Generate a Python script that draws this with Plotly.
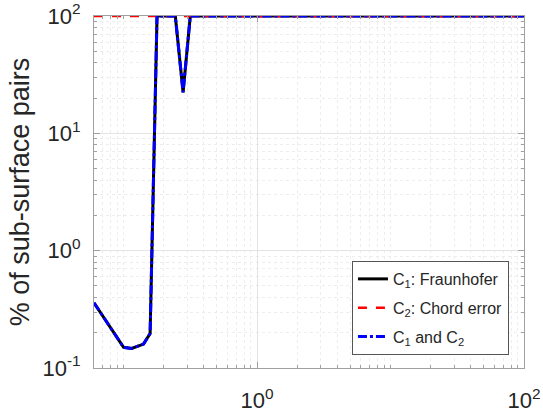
import plotly.graph_objects as go

# Data
x_vals = [0.06, 0.1, 0.115, 0.141, 0.158, 0.178, 0.244, 0.279, 0.316, 100]
c1_fraunhofer = [0.36, 0.150, 0.147, 0.160, 0.197, 100, 100, 22.4, 100, 100]
x_chord = [0.06, 100]
c2_chord = [100, 100]
c1_and_c2 = [0.36, 0.150, 0.147, 0.160, 0.197, 100, 100, 22.4, 100, 100]

x_tickvals = [1, 100]
x_ticktext = ["10<sup>0</sup>", "10<sup>2</sup>"]
y_tickvals = [0.1, 1, 10, 100]
y_ticktext = ["10<sup>-1</sup>", "10<sup>0</sup>", "10<sup>1</sup>", "10<sup>2</sup>"]

x_minor = [m * 10 ** e for e in (-2, -1, 0, 1) for m in range(1, 10)
           if 0.06 <= m * 10 ** e <= 100 and m * 10 ** e not in (1, 100)]
y_minor = [m * 10 ** e for e in (-1, 0, 1) for m in range(2, 10)]

FONT = "Liberation Sans, Arial, sans-serif"

fig = go.Figure()
fig.add_trace(go.Scatter(x=x_vals, y=c1_fraunhofer, mode="lines",
                         name="C<sub>1</sub>: Fraunhofer", legendgroup="a",
                         line=dict(color="black", width=3)))
fig.add_trace(go.Scatter(x=x_chord, y=c2_chord, mode="lines",
                         name="C<sub>2</sub>: Chord error", legendgroup="b",
                         line=dict(color="#ff0000", width=2.5, dash="dash")))
fig.add_trace(go.Scatter(x=x_vals, y=c1_and_c2, mode="lines",
                         name="C<sub>1</sub> and C<sub>2</sub>", legendgroup="c",
                         line=dict(color="#0000ff", width=3, dash="dashdot")))

axis_common = dict(
    type="log", automargin=False,
    showline=True, linecolor="#a0a0a0", linewidth=1, mirror="ticks",
    ticks="inside", ticklen=6, tickcolor="#a0a0a0",
    showgrid=True, gridcolor="#e4e4e4", gridwidth=1,
    zeroline=False, ticklabeloverflow="allow",
    tickfont=dict(family=FONT, size=22, color="#262626"),
)

fig.update_xaxes(
    **axis_common,
    range=[-1.2218, 2],
    tickvals=x_tickvals, ticktext=x_ticktext,
    ticklabelstandoff=13,
    minor=dict(tickvals=x_minor, ticks="inside", ticklen=3, tickcolor="#a0a0a0",
               showgrid=True, gridcolor="#ededed", griddash="dot", gridwidth=1),
)
fig.update_yaxes(
    **axis_common,
    range=[-1, 2],
    tickvals=y_tickvals, ticktext=y_ticktext,
    ticklabelstandoff=8,
    minor=dict(tickvals=y_minor, ticks="inside", ticklen=3, tickcolor="#a0a0a0",
               showgrid=True, gridcolor="#ededed", griddash="dot", gridwidth=1),
    title=dict(text="% of sub-surface pairs", font=dict(family=FONT, size=27, color="#262626"),
               standoff=4),
)

fig.update_layout(
    width=543, height=420,
    margin=dict(l=94, r=19, t=16, b=52),
    paper_bgcolor="white", plot_bgcolor="white",
    font=dict(family=FONT, color="#262626"),
    legend=dict(x=0.965, xanchor="right", y=0.037, yanchor="bottom",
                bgcolor="white", bordercolor="#555555", borderwidth=1,
                font=dict(family=FONT, size=16, color="#262626"),
                tracegroupgap=5),
    showlegend=True,
)

fig.write_html("out.html", post_script="document.body.style.margin='0';",
               config={"displayModeBar": False})
